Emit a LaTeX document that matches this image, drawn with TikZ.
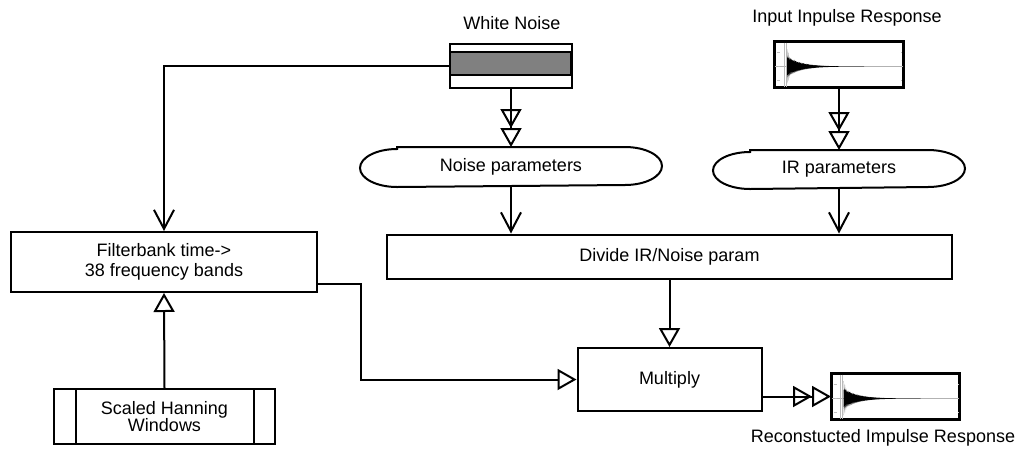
\documentclass[tikz,border=0pt]{standalone}
\usepackage{fontspec}
\setmainfont{Liberation Sans}
\usetikzlibrary{arrows.meta,calc}
\begin{document}
\begin{tikzpicture}[x=1pt,y=-1pt,
  line width=2pt,
  font=\fontsize{18}{20}\selectfont,
  box/.style={draw, rectangle, inner sep=0pt, align=center},
  lbl/.style={inner sep=0pt, align=center},
  tri/.style={-{Triangle[open,length=19pt,width=21pt]}},
  dtri/.style={-{Triangle[open,length=19pt,width=21pt,sep=0pt]Triangle[open,length=19pt,width=21pt]}},
  barb/.style={-{Straight Barb[length=19pt,width=20pt]}},
  wave/.pic={
    \draw[gray!60, line width=0.6pt] (-64,2) -- (64,2);
    \draw[gray!55, line width=0.5pt] (-55,-22) -- (-55,22) (-53,-22) -- (-53,22);
    \draw[gray!50, line width=0.4pt] (-62,-12) -- (-59,-12) (-61,2) -- (-59,2) (-62,16) -- (-59,16)
      (62,-12) -- (63,-12) (62,16) -- (63,16);
    \draw[gray!60, line width=0.4pt] plot[domain=-52:-44, samples=30] (\x, {2 - 18*exp(-(\x+52)/4)*abs(sin(\x*137))});
    \draw[gray!60, line width=0.4pt] plot[domain=-52:-44, samples=30] (\x, {2 + 18*exp(-(\x+52)/4)*abs(sin(\x*151))});
    \fill[black] plot[domain=-52:25, samples=150] (\x, {2 - 11*exp(-(\x+52)/14)*(0.55+0.45*abs(sin(\x*211)))})
      -- plot[domain=25:-52, samples=150] (\x, {2 + 11*exp(-(\x+52)/14)*(0.55+0.45*abs(sin(\x*173)))}) -- cycle;
  },
]
\useasboundingbox (0,0) rectangle (1020,448);

% White noise source
\node[box, minimum width=122pt, minimum height=44pt] (wn) at (511,66) {};
\draw[fill=gray] ([xshift=1pt,yshift=-9pt]wn.north west) rectangle ([xshift=-2pt,yshift=14pt]wn.south east);
\node[lbl] (wnl) at (512,23) {White Noise};

% Input impulse response
\node[box, minimum width=128pt, minimum height=45pt] (inir) at (839,64.5) {};
\pic at (inir) {wave};
\draw (inir.north west) rectangle (inir.south east);
\node[lbl] (inirl) at (847,18) {Input Inpulse Response};

% parameter stadiums
\node[lbl, minimum width=300pt, minimum height=38pt] (np) at (511,167) {Noise parameters};
\draw ([xshift=37pt]np.north west) -- ([xshift=-37pt]np.north east)
  arc[start angle=90, end angle=-90, x radius=37pt, y radius=19pt]
  -- ([xshift=37pt]np.south west)
  arc[start angle=270, end angle=90, x radius=37pt, y radius=19pt] -- cycle;

\node[lbl, minimum width=250pt, minimum height=37pt] (irp) at (839,169.5) {IR parameters};
\draw ([xshift=37pt]irp.north west) -- ([xshift=-37pt]irp.north east)
  arc[start angle=90, end angle=-90, x radius=37pt, y radius=18.5pt]
  -- ([xshift=37pt]irp.south west)
  arc[start angle=270, end angle=90, x radius=37pt, y radius=18.5pt] -- cycle;

% Divide
\node[box, minimum width=565pt, minimum height=44pt] (div) at (669.5,256.5) {Divide IR/Noise param};

% Filterbank
\node[box, minimum width=306pt, minimum height=60pt] (fb) at (164,262) {Filterbank time->\\38 frequency bands};

% Hanning
\node[box, minimum width=221pt, minimum height=55pt, font=\fontsize{18}{17}\selectfont] (han) at (164.5,416.5) {Scaled Hanning\\Windows};
\draw ([xshift=23pt]han.north west) -- ([xshift=23pt]han.south west);
\draw ([xshift=-22pt]han.north east) -- ([xshift=-22pt]han.south east);

% Multiply
\node[box, minimum width=184pt, minimum height=63pt] (mult) at (669.5,379.5) {Multiply};

% Output impulse response
\node[box, minimum width=127pt, minimum height=45pt] (outir) at (895.5,396.5) {};
\pic at (outir) {wave};
\draw (outir.north west) rectangle (outir.south east);
\node[lbl] (outirl) at (883,438) {Reconstucted Impulse Response};

% connectors
\draw[barb] (wn.west) -| (fb.north);
\draw[tri] (han.north) -- (fb.south);
\draw[tri] ([yshift=-22pt]fb.east) -- ++(43,0) |- (mult.west);
\draw[dtri] (wn.south) -- (np.north);
\draw[dtri] (inir.south) -- (irp.north);
\draw[barb] (np.south) -- (np.south |- div.north);
\draw[barb] (irp.south) -- (irp.south |- div.north);
\draw[tri] (div.south) -- (mult.north);
\draw[dtri] (mult.east |- outir.west) -- (outir.west);
\end{tikzpicture}
\end{document}
